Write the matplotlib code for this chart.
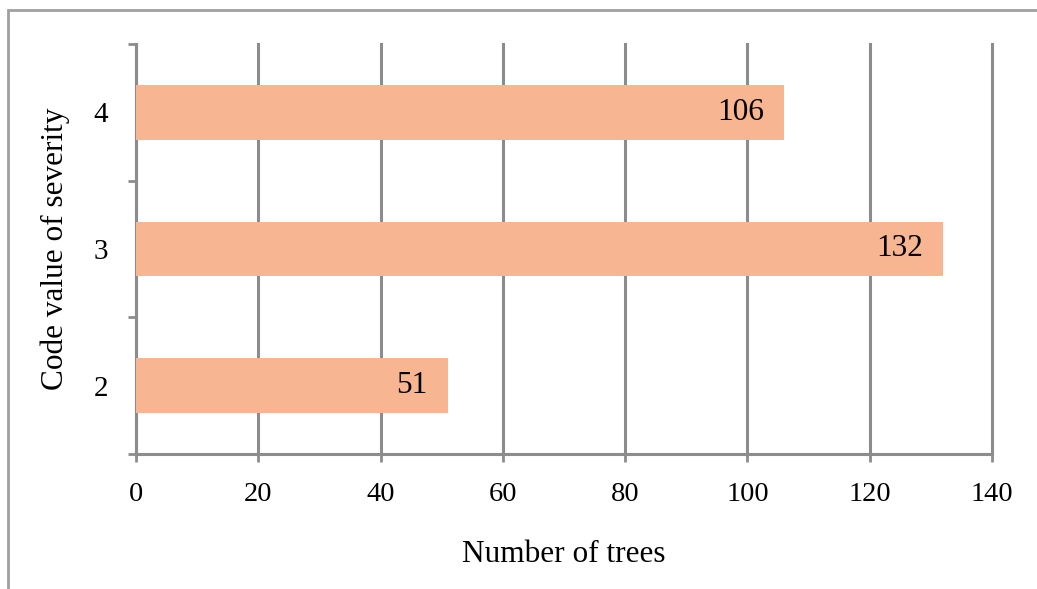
import matplotlib.pyplot as plt
from matplotlib.patches import Rectangle

# -------- DATA --------
categories = ["2", "3", "4"]
counts = [51, 132, 106]
x_ticks = [0, 20, 40, 60, 80, 100, 120, 140]

bar_color = "#F8B591"
line_color = "#8C8C8C"

plt.rcParams["font.family"] = ["Liberation Serif", "DejaVu Serif"]

fig = plt.figure(figsize=(10.37, 5.89), dpi=100)
ax = fig.add_axes([136 / 1037, 1 - 454 / 589, 856 / 1037, 410 / 589])

pos = list(range(len(categories)))
bars = ax.barh(pos, counts, height=0.4, color=bar_color, zorder=3)

for p, v in zip(pos, counts):
    ax.text(v - 3.3, p, str(v), ha="right", va="center", fontsize=22.5, zorder=4)

# -------- AXES --------
ax.set_xlim(0, 140)
ax.set_ylim(-0.5, 2.5)
ax.set_xticks(x_ticks)
ax.set_xticklabels([str(t) for t in x_ticks], fontsize=20.5)
ax.grid(axis="x", color=line_color, linewidth=2.2, zorder=0)
for gl in ax.get_xgridlines():
    gl.set_clip_on(False)

ax.set_yticks([-0.5, 0.5, 1.5, 2.5])
ax.set_yticklabels([])
ax.set_yticks(pos, minor=True)
ax.set_yticklabels(categories, minor=True, fontsize=21)
ax.tick_params(axis="y", which="major", length=6, width=2, color=line_color)
ax.tick_params(axis="y", which="minor", length=0, pad=20)
ax.tick_params(axis="x", length=6, width=2, color=line_color, pad=14)

for s in ["top", "right"]:
    ax.spines[s].set_visible(False)
for s in ["left", "bottom"]:
    ax.spines[s].set_color(line_color)
    ax.spines[s].set_linewidth(2.2)

ax.set_xlabel("Number of trees", fontsize=22.5, labelpad=24)
ax.set_ylabel("Code value of severity", fontsize=22.5, labelpad=17)

# outer chart border
fig.patches.append(Rectangle((8 / 1037, -0.05), 1.1, 1 - 10 / 589 + 0.05,
                             transform=fig.transFigure, fill=False,
                             edgecolor="#A0A0A0", linewidth=2))

fig.savefig("out.png", dpi=100)
